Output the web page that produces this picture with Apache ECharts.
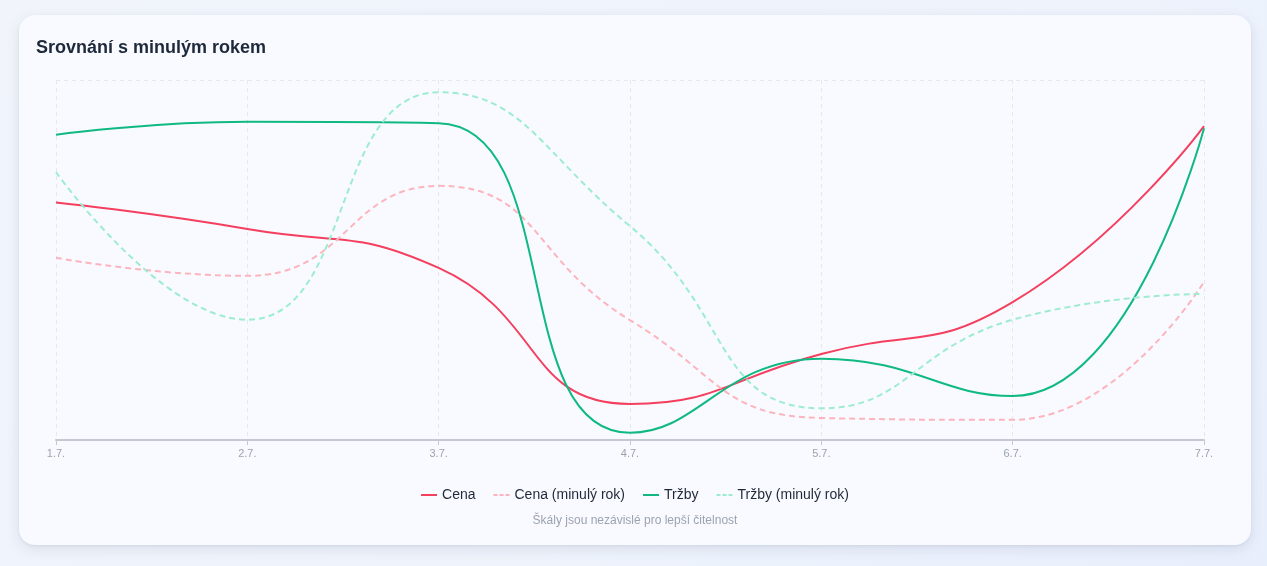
<!DOCTYPE html>
<html>
<head>
<meta charset="utf-8">
<script src="https://cdn.jsdelivr.net/npm/echarts@6/dist/echarts.min.js"></script>
<style>
  html, body { margin: 0; padding: 0; width: 1267px; height: 566px; overflow: hidden;
    background: linear-gradient(135deg, #f1f5fb 0%, #eef3fc 60%, #e8effc 100%);
    font-family: "Liberation Sans", Arial, sans-serif; }
  #card { position: absolute; left: 19px; top: 15px; width: 1232px; height: 530px;
    background: #f8faff; border-radius: 16px;
    box-shadow: 0 4px 14px rgba(30, 41, 80, 0.10), 0 1px 3px rgba(30,41,80,0.06); }
  #chart { width: 1232px; height: 530px; }
</style>
</head>
<body>
<div id="card"><div id="chart"></div></div>
<script>
const categories = ['1.7.', '2.7.', '3.7.', '4.7.', '5.7.', '6.7.', '7.7.'];
const cena = [166, 158.6, 147.8, 110, 123.9, 138.3, 187.2];
const cenaMinulyRok = [150.6, 145.6, 170.6, 133.3, 106.1, 105.6, 143.9];
const trzby = [42400, 44200, 44000, 1000, 11300, 6100, 43300];
const trzbyMinulyRok = [37200, 16700, 48300, 29700, 4400, 16700, 20300];

const FONT = '"Liberation Sans", Arial, sans-serif';
const SOLID_ICON = 'path://M0,0H16V2H0Z';
const DASH_ICON = 'path://M0,0H4V2H0Z M6,0H10V2H6Z M12,0H16V2H12Z';
const chart = echarts.init(document.getElementById('chart'), null, { renderer: 'canvas' });

function hiddenAxis(min, max, showSplit) {
  return {
    type: 'value', min: min, max: max, interval: max - min,
    axisLine: { show: false }, axisTick: { show: false }, axisLabel: { show: false },
    splitLine: { show: showSplit, lineStyle: { color: '#e5e7eb', type: [4, 4] } }
  };
}

chart.setOption({
  animation: false,
  title: {
    text: 'Srovnání s minulým rokem', left: 12, top: 19,
    textStyle: { fontSize: 18, fontWeight: 'bold', color: '#1e293b', fontFamily: FONT }
  },
  graphic: [{
    type: 'text', left: 'center', top: 500,
    style: { text: 'Škály jsou nezávislé pro lepší čitelnost', fill: '#9ca3af', fontSize: 12, fontFamily: FONT }
  }],
  legend: {
    bottom: 38, left: 'center', itemWidth: 16, itemHeight: 2, itemGap: 18,
    textStyle: { color: '#1f2937', fontSize: 14, fontFamily: FONT },
    data: [
      { name: 'Cena', icon: SOLID_ICON },
      { name: 'Cena (minulý rok)', icon: DASH_ICON },
      { name: 'Tržby', icon: SOLID_ICON },
      { name: 'Tržby (minulý rok)', icon: DASH_ICON }
    ]
  },
  grid: { left: 37, right: 47, top: 65, bottom: 105 },
  xAxis: {
    type: 'category', data: categories, boundaryGap: false,
    axisLine: { lineStyle: { color: '#c4c8d2', width: 2 } },
    axisTick: { show: true, length: 5, lineStyle: { color: '#c4c8d2' } },
    axisLabel: { color: '#9ca3af', fontSize: 11, margin: 8, fontFamily: FONT },
    splitLine: { show: true, lineStyle: { color: '#e5e7eb', type: [4, 4] } }
  },
  yAxis: [
    hiddenAxis(100, 200, true),
    hiddenAxis(0, 50000, false)
  ],
  series: [
    { name: 'Cena', type: 'line', smooth: true, yAxisIndex: 0, data: cena, symbol: 'none',
      lineStyle: { color: '#f43f5e', width: 2 }, itemStyle: { color: '#f43f5e' } },
    { name: 'Cena (minulý rok)', type: 'line', smooth: true, yAxisIndex: 0, data: cenaMinulyRok, symbol: 'none',
      lineStyle: { color: '#fdb4bd', width: 2, type: [6, 4] }, itemStyle: { color: '#fdb4bd' } },
    { name: 'Tržby', type: 'line', smooth: true, yAxisIndex: 1, data: trzby, symbol: 'none',
      lineStyle: { color: '#10b981', width: 2 }, itemStyle: { color: '#10b981' } },
    { name: 'Tržby (minulý rok)', type: 'line', smooth: true, yAxisIndex: 1, data: trzbyMinulyRok, symbol: 'none',
      lineStyle: { color: '#9eecd0', width: 2, type: [6, 4] }, itemStyle: { color: '#9eecd0' } }
  ]
});
</script>
</body>
</html>
